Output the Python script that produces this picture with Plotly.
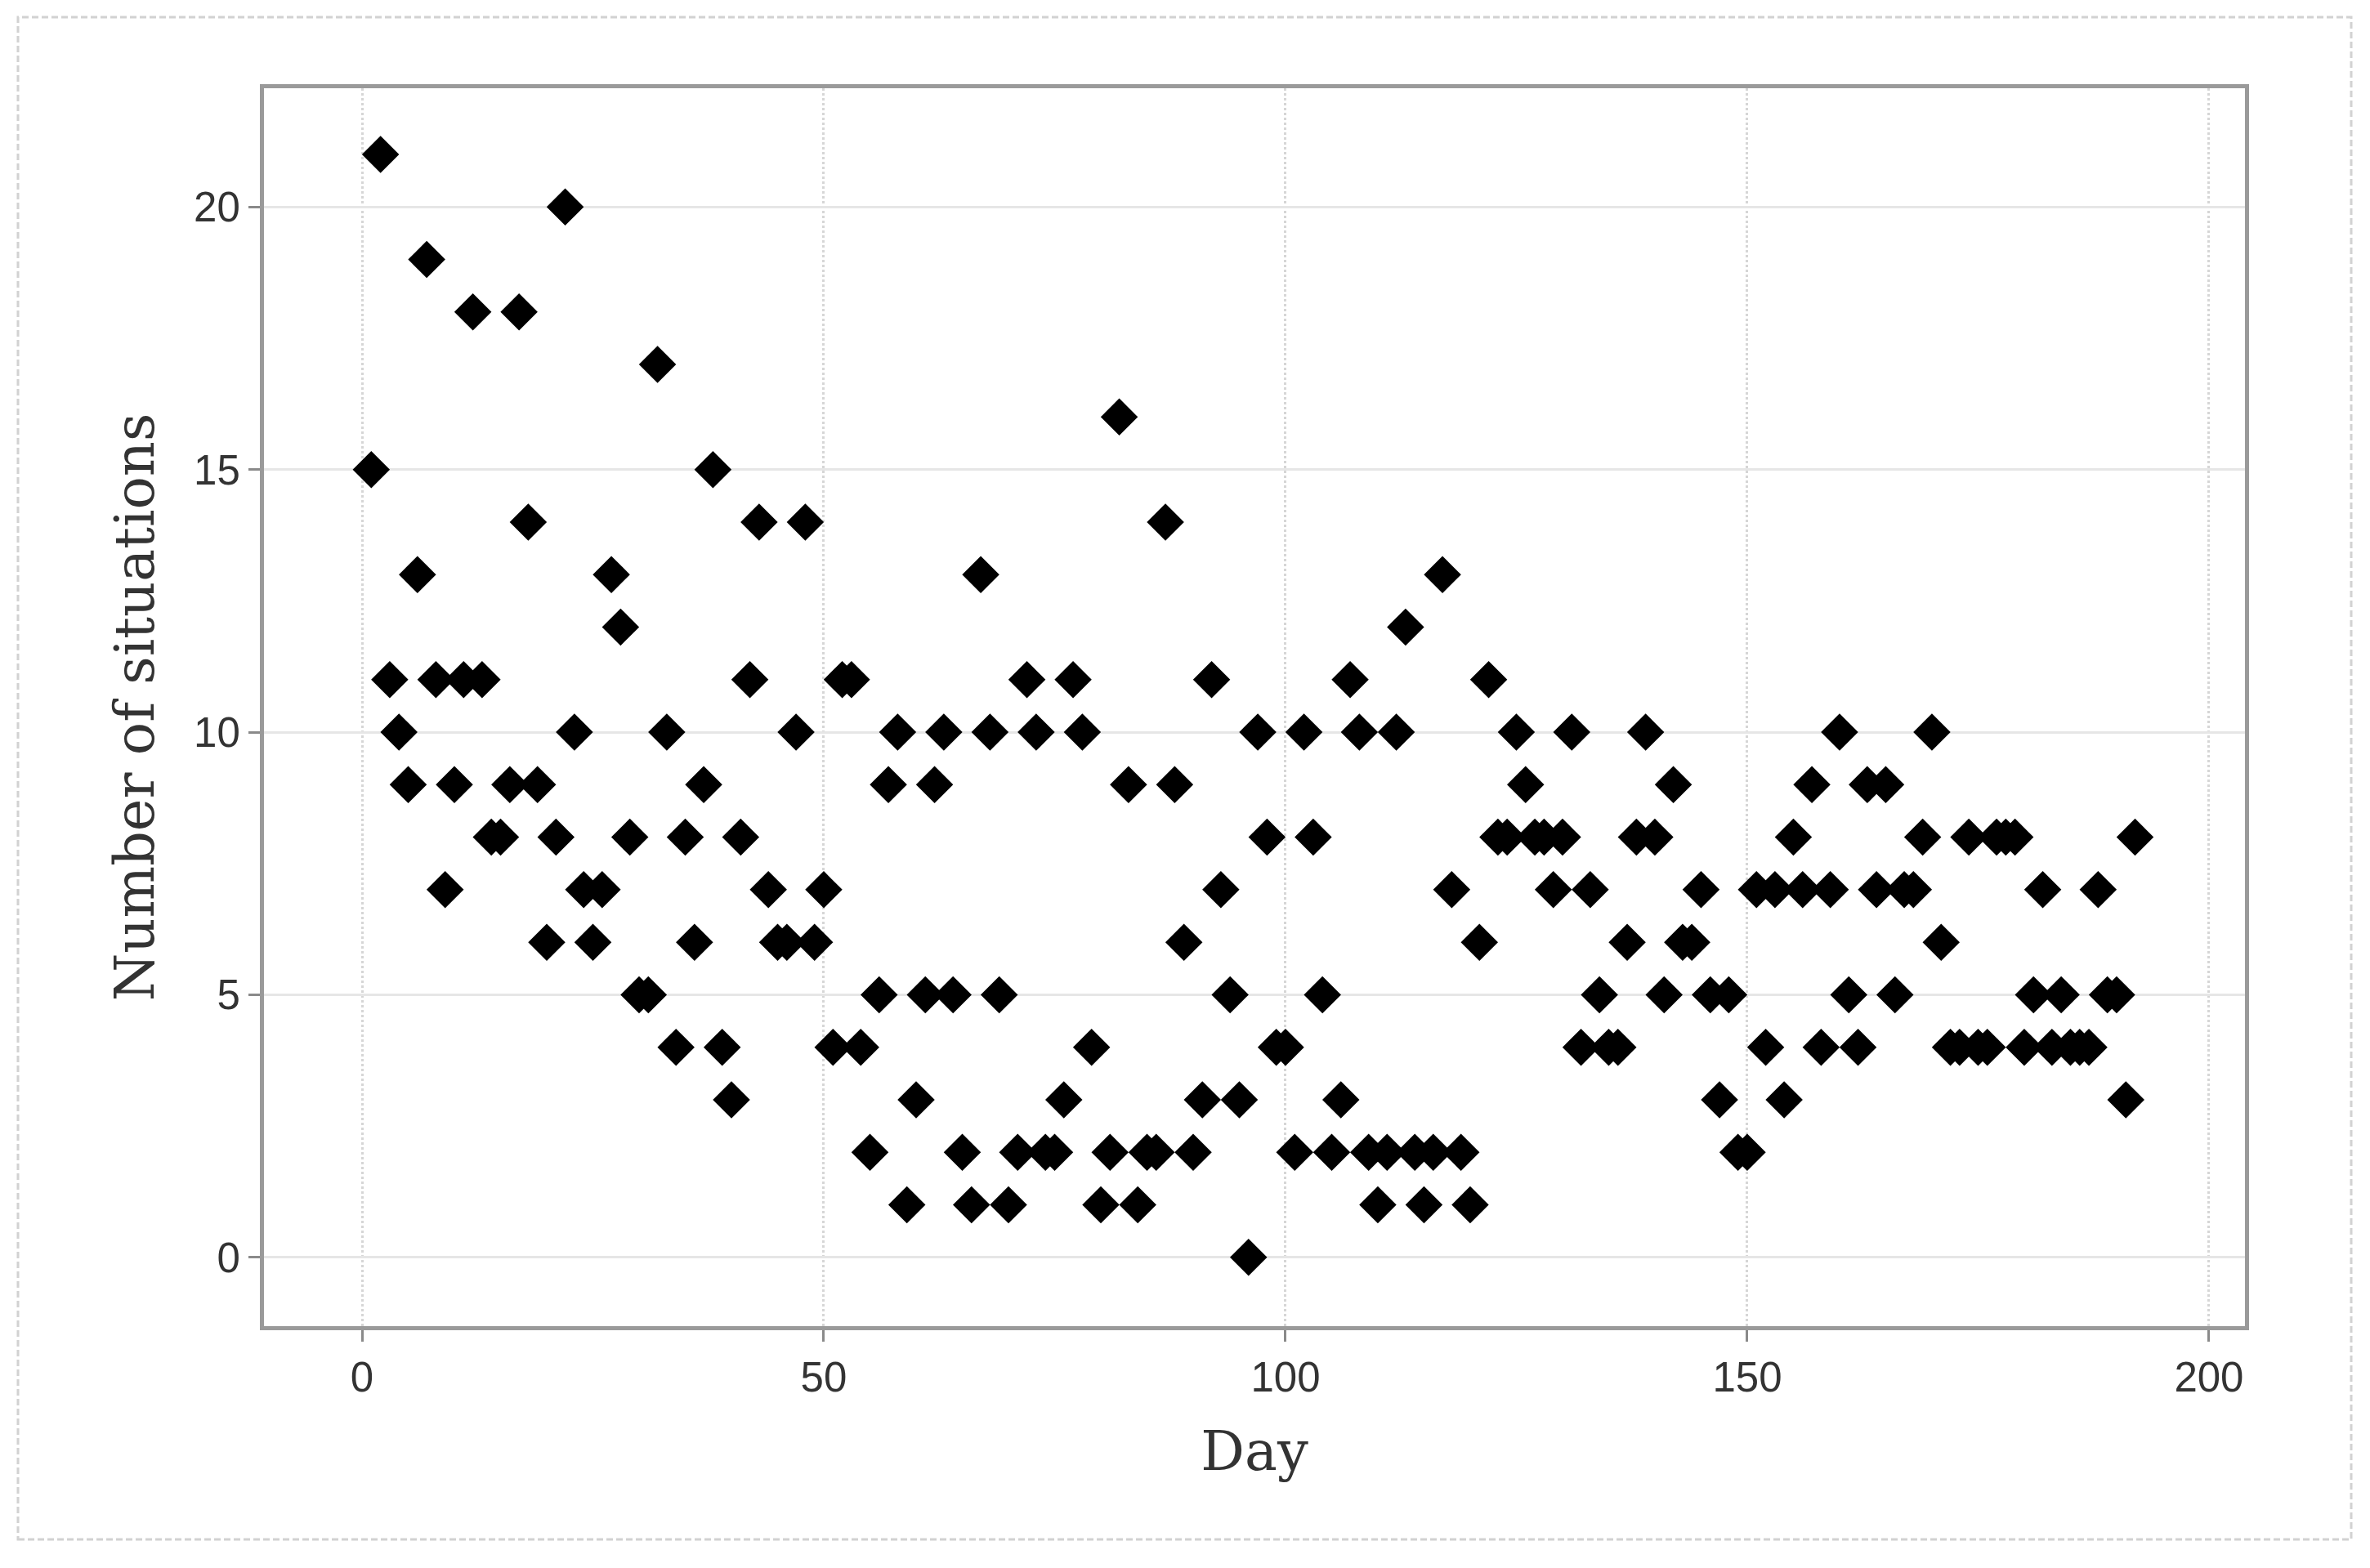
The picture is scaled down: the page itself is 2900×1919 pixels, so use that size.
import plotly.graph_objects as go

# Day index (one observation per day)
days = list(range(1, 193))

# Number of situations per day
situations = [
    15, 21, 11, 10, 9, 13, 19, 11, 7, 9,
    11, 18, 11, 8, 8, 9, 18, 14, 9, 6,
    8, 20, 10, 7, 6, 7, 13, 12, 8, 5,
    5, 17, 10, 4, 8, 6, 9, 15, 4, 3,
    8, 11, 14, 7, 6, 6, 10, 14, 6, 7,
    4, 11, 11, 4, 2, 5, 9, 10, 1, 3,
    5, 9, 10, 5, 2, 1, 13, 10, 5, 1,
    2, 11, 10, 2, 2, 3, 11, 10, 4, 1,
    2, 16, 9, 1, 2, 2, 14, 9, 6, 2,
    3, 11, 7, 5, 3, 0, 10, 8, 4, 4,
    2, 10, 8, 5, 2, 3, 11, 10, 2, 1,
    2, 10, 12, 2, 1, 2, 13, 7, 2, 1,
    6, 11, 8, 8, 10, 9, 8, 8, 7, 8,
    10, 4, 7, 5, 4, 4, 6, 8, 10, 8,
    5, 9, 6, 6, 7, 5, 3, 5, 2, 2,
    7, 4, 7, 3, 8, 7, 9, 4, 7, 10,
    5, 4, 9, 7, 9, 5, 7, 7, 8, 10,
    6, 4, 4, 8, 4, 4, 8, 8, 8, 4,
    5, 7, 4, 5, 4, 4, 4, 7, 5, 5,
    3, 8,
]

x_ticks = [0, 50, 100, 150, 200]
y_ticks = [0, 5, 10, 15, 20]

W, H = 2900, 1919
L, R, T, B = 323, 2747, 108, 1623

fig = go.Figure()
fig.add_trace(go.Scatter(
    x=days, y=situations, mode="markers",
    marker=dict(symbol="diamond", size=35, color="black", line=dict(width=0)),
    showlegend=False, hoverinfo="x+y",
))

tick_font = dict(family="Liberation Sans, Arial, sans-serif", size=51, color="#333333")
title_font = dict(family="DejaVu Serif, serif", size=67, color="#333333")

axis_common = dict(
    showline=True, linecolor="#9a9a9a", linewidth=5, mirror=True,
    showgrid=True, gridwidth=3,
    zeroline=False,
    ticks="outside", ticklen=14, tickwidth=3, tickcolor="#8a8a8a",
    tickfont=tick_font,
)

fig.update_xaxes(
    range=[-10.62, 203.9], tickmode="array", tickvals=x_ticks,
    gridcolor="#d6d6d6", griddash="dot",
    title=dict(text="Day", font=title_font, standoff=40),
    automargin=False, **axis_common,
)
fig.update_yaxes(
    range=[-1.31, 22.26], tickmode="array", tickvals=y_ticks,
    gridcolor="#e6e6e6",
    title=dict(text="Number of situations", font=title_font, standoff=28),
    automargin=False, **axis_common,
)

# light outer border around the whole figure
pw, ph = R - L, B - T
def px_x(p):
    return (p - L) / pw
def px_y(p):
    return (B - p) / ph

fig.add_shape(
    type="rect", xref="paper", yref="paper",
    x0=px_x(22), x1=px_x(2877), y0=px_y(1884), y1=px_y(21),
    line=dict(color="#d2d2d2", width=3, dash="8px,4px"),
    layer="below",
)

fig.update_layout(
    width=W, height=H,
    margin=dict(l=L, r=W - R, t=T, b=H - B, pad=0),
    paper_bgcolor="white", plot_bgcolor="white",
)

fig.write_html(
    "out.html",
    config={"displayModeBar": False},
    post_script="document.body.style.margin='0';document.body.style.padding='0';",
)
